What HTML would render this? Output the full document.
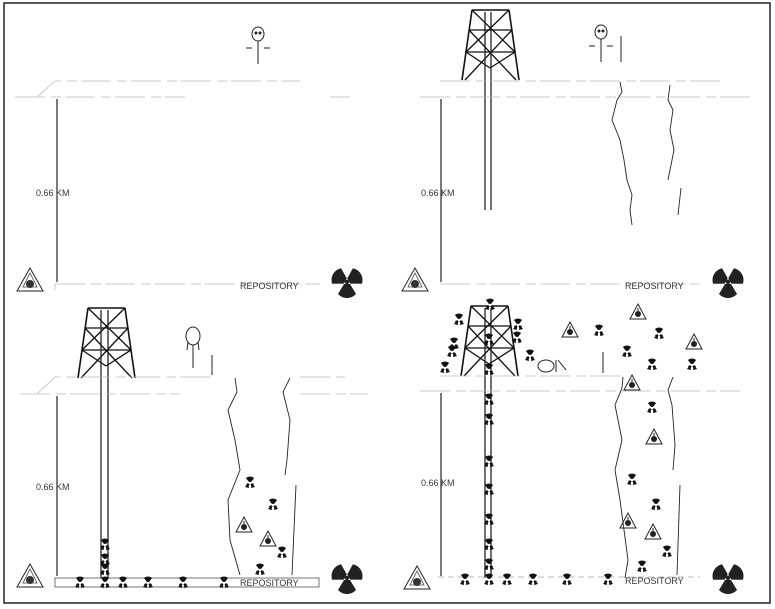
<!DOCTYPE html>
<html><head><meta charset="utf-8"><style>
html,body{margin:0;padding:0;background:#fff}
svg{display:block}
text{font-family:"Liberation Sans",sans-serif;fill:#333}
</style></head><body>
<svg width="775" height="609" viewBox="0 0 775 609" xmlns="http://www.w3.org/2000/svg">
<defs>
<g id="tf"><path d="M0,0 L-4,-5 L-1,-6 Z M0,0 L1,-6 L4,-5 Z M0,0 L4,1 L2,5 Z M0,0 L-4,1 L-2,5 Z" fill="#111"/><path d="M-4,-5 A6,6 0 0 1 4,-5 L1,-1 L-1,-1 Z" fill="#111"/><path d="M-2,0 L-5,4 L-1,5 Z M2,0 L5,4 L1,5 Z" fill="#111"/><circle r="1.3" fill="#fff"/></g>
<g id="wt"><path d="M0,-9 L8,6 L-8,6 Z" fill="none" stroke="#222" stroke-width="1"/><circle cy="1" r="3" fill="#222"/><path d="M0,-5 L0,-2" stroke="#222"/></g>
<g id="wtb"><path d="M0,-14 L13,9 L-13,9 Z" fill="none" stroke="#222" stroke-width="1"/><path d="M0,-9 L7,5 L-7,5 Z" fill="none" stroke="#444" stroke-width="0.8"/><circle cy="2" r="4" fill="#333"/></g>
<g id="bt"><path d="M-3,-2 L-9,-12 A12,12 0 0 1 9,-12 L3,-2 Z" fill="#222" transform="rotate(-60)"/><path d="M-3,-2 L-9,-12 A12,12 0 0 1 9,-12 L3,-2 Z" fill="#222" transform="rotate(60)"/><path d="M-3,-2 L-9,-12 A12,12 0 0 1 9,-12 L3,-2 Z" fill="#222" transform="rotate(180)"/><circle r="2.2" fill="#222"/></g>
<g id="tower" fill="none" stroke="#111" stroke-width="1.6"><path d="M0,70 L10,0 M57,70 L47,0 M10,0 L47,0"/><path d="M7,20 L50,20 M4,42 L53,42 M10,0 L53,42 M47,0 L4,42 M7,20 L54,70 M50,20 L3,70 M4,42 L28,58 M53,42 L28,58" stroke-width="1.3"/></g>
<g id="person" fill="none" stroke="#222" stroke-width="1"><ellipse cx="0" cy="-8" rx="6" ry="7"/><circle cx="-2" cy="-9" r="1" fill="#222"/><circle cx="2" cy="-9" r="1" fill="#222"/><path d="M0,-1 L0,22 M-12,6 L-6,6 M6,6 L12,6"/></g>
</defs>
<rect x="4" y="3" width="766" height="600" fill="none" stroke="#222" stroke-width="1.5"/>
<!-- Panel 1 -->
<g stroke="#bbb" stroke-width="0.8" fill="none" stroke-dasharray="30 6 10 4">
<path d="M37,97 L55,81 L300,81"/><path d="M15,97 L185,97 M330,97 L350,97"/>
<path d="M55,284 L320,284 M55,284 L55,290"/>
</g>
<path d="M57,99 L57,282" stroke="#222" stroke-width="1.2"/>
<text x="36" y="196" font-size="9">0.66 KM</text>
<text x="240" y="289" font-size="9">REPOSITORY</text>
<use href="#wtb" x="30" y="282"/><use href="#bt" x="347" y="282"/>
<use href="#person" x="258" y="42"/>
<!-- Panel 2 -->
<use href="#tower" x="462" y="10"/>
<path d="M485,12 L485,210 M491,12 L491,210" stroke="#222" stroke-width="1.3"/>
<g stroke="#bbb" stroke-width="0.8" fill="none" stroke-dasharray="30 6 10 4"><path d="M420,97 L750,97 M440,81 L720,81 M440,284 L700,284"/></g>
<path d="M441,99 L441,282" stroke="#222" stroke-width="1.2"/>
<text x="421" y="196" font-size="9">0.66 KM</text>
<text x="625" y="289" font-size="9">REPOSITORY</text>
<use href="#wtb" x="415" y="282"/><use href="#bt" x="728" y="282"/>
<use href="#person" x="601" y="40"/>
<path d="M621,36 L621,62" stroke="#222"/>
<g fill="none" stroke="#222" stroke-width="0.9"><path d="M620,82 L622,92 L617,100 L612,120 L620,140 L624,160 L627,180 L632,195 L630,210 L632,225"/><path d="M670,85 L668,100 L673,110 L670,130 L674,150 L668,180 M681,188 L678,215"/></g>
<!-- Panel 3 -->
<use href="#tower" x="78" y="308"/>
<path d="M101,310 L101,578 M108,310 L108,578" stroke="#222" stroke-width="1.3"/>
<g stroke="#bbb" stroke-width="0.8" fill="none" stroke-dasharray="30 6 10 4"><path d="M37,394 L55,377 L210,377 M20,394 L180,394 M300,377 L345,377 M300,394 L368,394"/></g>
<path d="M57,396 L57,576" stroke="#222" stroke-width="1.2"/>
<text x="36" y="490" font-size="9">0.66 KM</text>
<rect x="55" y="578" width="264" height="9" fill="none" stroke="#555" stroke-width="0.8"/>
<text x="240" y="586" font-size="9">REPOSITORY</text>
<use href="#wtb" x="30" y="578"/><use href="#bt" x="347" y="578"/>
<g fill="none" stroke="#222" stroke-width="1"><ellipse cx="193" cy="336" rx="7" ry="9"/><path d="M188,342 L187,350 M198,342 L199,350 M193,345 L193,368 M212,355 L212,375"/></g>
<g fill="none" stroke="#222" stroke-width="0.9"><path d="M235,378 L237,392 L228,410 L235,440 L240,470 L228,500 L230,540 L240,575"/><path d="M290,378 L283,392 L290,420 L287,460 L285,475 M296,485 L292,575"/></g>
<use href="#tf" x="250" y="483"/><use href="#tf" x="273" y="505"/><use href="#tf" x="282" y="553"/><use href="#tf" x="260" y="570"/><use href="#wt" x="244" y="526"/><use href="#wt" x="268" y="540"/>
<use href="#tf" x="105" y="545"/><use href="#tf" x="105" y="560"/><use href="#tf" x="105" y="570"/>
<use href="#tf" x="80" y="583"/><use href="#tf" x="105" y="583"/><use href="#tf" x="123" y="583"/><use href="#tf" x="148" y="583"/><use href="#tf" x="183" y="583"/><use href="#tf" x="224" y="583"/>
<!-- Panel 4 -->
<use href="#tower" x="461" y="306"/>
<path d="M485,308 L485,578 M491,308 L491,578" stroke="#222" stroke-width="1.3"/>
<g stroke="#bbb" stroke-width="0.8" fill="none" stroke-dasharray="30 6 10 4"><path d="M420,391 L740,391 M440,376 L620,376"/></g>
<path d="M441,393 L441,576" stroke="#222" stroke-width="1.2"/>
<text x="421" y="486" font-size="9">0.66 KM</text>
<text x="625" y="584" font-size="9">REPOSITORY</text>
<path d="M438,577 L700,577" stroke="#bbb" stroke-dasharray="6 4"/>
<use href="#wtb" x="417" y="580"/><use href="#bt" x="728" y="578"/>
<g fill="none" stroke="#222" stroke-width="1"><ellipse cx="546" cy="366" rx="8" ry="6"/><path d="M556,360 L556,372 M558,360 L566,370 M603,352 L603,373"/></g>
<g fill="none" stroke="#222" stroke-width="0.9"><path d="M623,377 L622,388 L615,405 L622,440 L615,470 L620,500 L628,560 L625,578"/><path d="M673,377 L668,390 L672,405 L675,445 L673,470 M680,485 L677,575"/></g>
<g><use href="#tf" x="490" y="305"/><use href="#tf" x="459" y="320"/><use href="#tf" x="452" y="352"/><use href="#tf" x="517" y="338"/><use href="#tf" x="530" y="356"/><use href="#tf" x="599" y="331"/><use href="#tf" x="659" y="334"/><use href="#tf" x="627" y="352"/><use href="#tf" x="652" y="365"/><use href="#tf" x="692" y="365"/><use href="#tf" x="652" y="408"/><use href="#tf" x="632" y="480"/><use href="#tf" x="656" y="505"/><use href="#tf" x="667" y="552"/><use href="#tf" x="642" y="567"/>
<use href="#wt" x="570" y="331"/><use href="#wt" x="638" y="313"/><use href="#wt" x="694" y="343"/><use href="#wt" x="632" y="384"/><use href="#wt" x="654" y="438"/><use href="#wt" x="628" y="522"/><use href="#wt" x="653" y="533"/>
<use href="#tf" x="445" y="368"/><use href="#tf" x="454" y="344"/><use href="#tf" x="518" y="325"/>
<use href="#tf" x="489" y="340"/><use href="#tf" x="489" y="370"/><use href="#tf" x="489" y="400"/><use href="#tf" x="489" y="420"/><use href="#tf" x="489" y="462"/><use href="#tf" x="489" y="490"/><use href="#tf" x="489" y="520"/><use href="#tf" x="489" y="545"/><use href="#tf" x="489" y="565"/>
<use href="#tf" x="465" y="580"/><use href="#tf" x="489" y="580"/><use href="#tf" x="507" y="580"/><use href="#tf" x="533" y="580"/><use href="#tf" x="567" y="580"/><use href="#tf" x="608" y="580"/></g>
</svg>
</body></html>
